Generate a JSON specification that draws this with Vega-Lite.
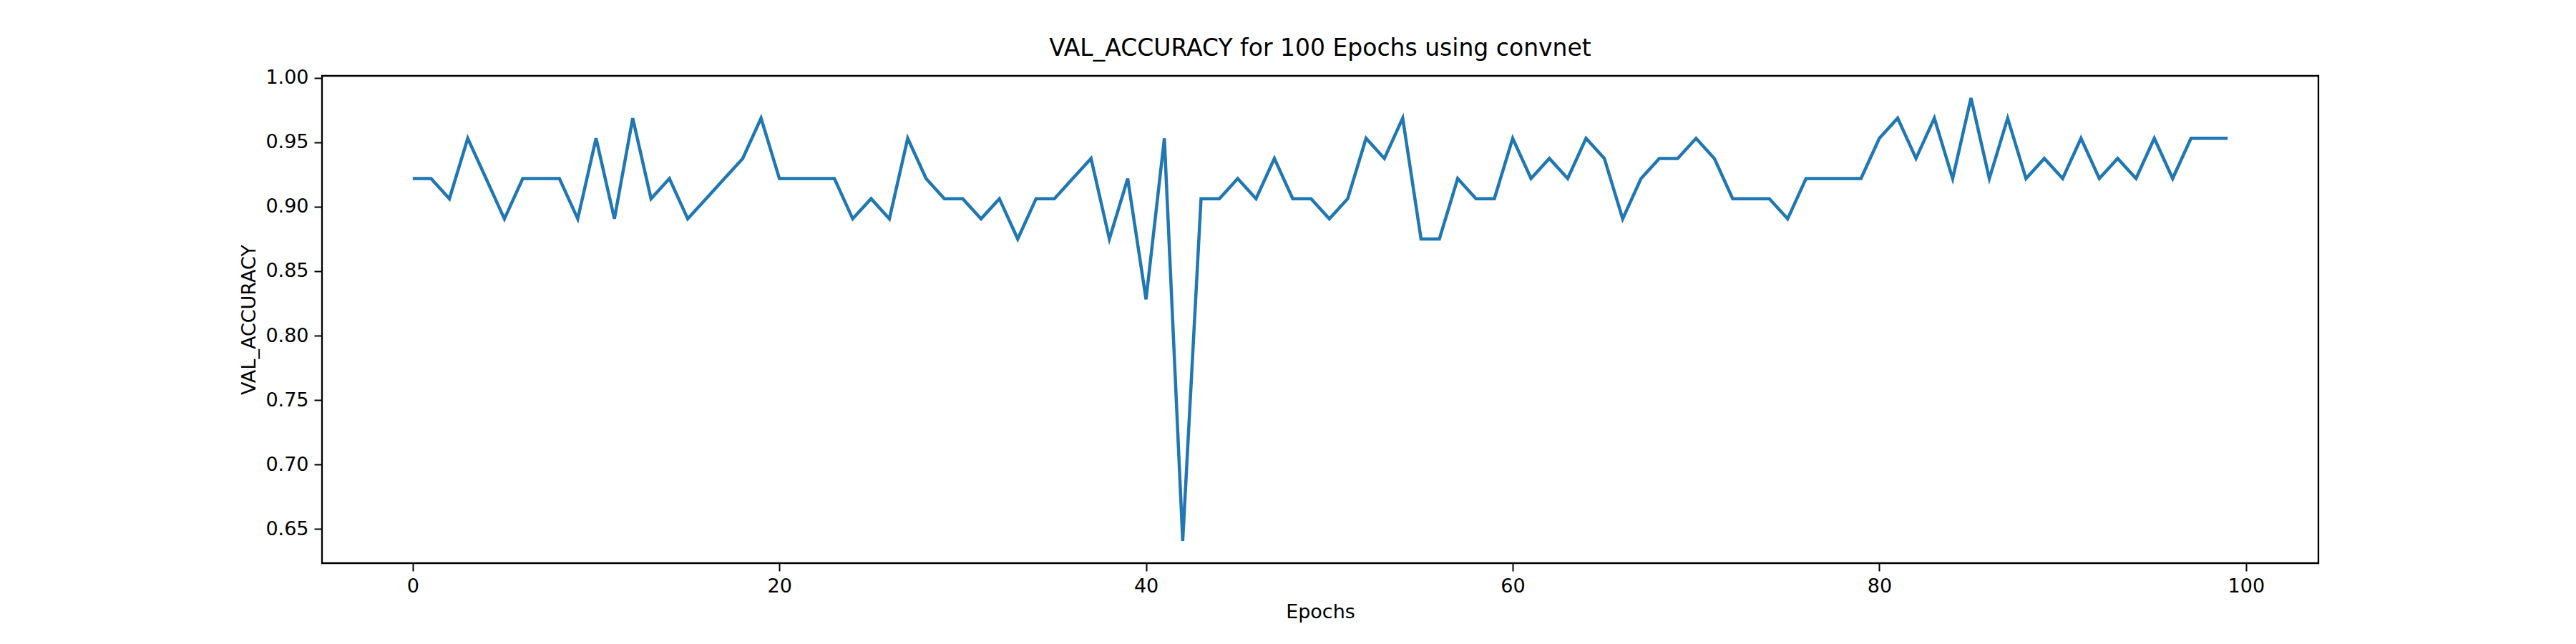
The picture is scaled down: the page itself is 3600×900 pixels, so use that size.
{"$schema":"https://vega.github.io/schema/vega-lite/v6.json","width":2790,"height":681,"autosize":"none","padding":{"left":450,"top":106,"right":360,"bottom":113},"background":"white",
"title":{"text":"VAL_ACCURACY for 100 Epochs using convnet","font":"DejaVu Sans","fontSize":33,"fontWeight":"normal","color":"black","offset":10},
"config":{"view":{"stroke":"black","strokeWidth":2.3},"axis":{"grid":false,"domain":false,"labelFont":"DejaVu Sans","titleFont":"DejaVu Sans","labelFontSize":27,"titleFontSize":27,"titleFontWeight":"normal","labelColor":"black","titleColor":"black","tickColor":"black","tickSize":11,"tickWidth":2,"labelPadding":8}},
"data":{"values":[
{"e":0,"v":0.921875},{"e":1,"v":0.921875},{"e":2,"v":0.90625},{"e":3,"v":0.953125},{"e":4,"v":0.921875},{"e":5,"v":0.890625},{"e":6,"v":0.921875},{"e":7,"v":0.921875},{"e":8,"v":0.921875},{"e":9,"v":0.890625},
{"e":10,"v":0.953125},{"e":11,"v":0.890625},{"e":12,"v":0.96875},{"e":13,"v":0.90625},{"e":14,"v":0.921875},{"e":15,"v":0.890625},{"e":16,"v":0.90625},{"e":17,"v":0.921875},{"e":18,"v":0.9375},{"e":19,"v":0.96875},
{"e":20,"v":0.921875},{"e":21,"v":0.921875},{"e":22,"v":0.921875},{"e":23,"v":0.921875},{"e":24,"v":0.890625},{"e":25,"v":0.90625},{"e":26,"v":0.890625},{"e":27,"v":0.953125},{"e":28,"v":0.921875},{"e":29,"v":0.90625},
{"e":30,"v":0.90625},{"e":31,"v":0.890625},{"e":32,"v":0.90625},{"e":33,"v":0.875},{"e":34,"v":0.90625},{"e":35,"v":0.90625},{"e":36,"v":0.921875},{"e":37,"v":0.9375},{"e":38,"v":0.875},{"e":39,"v":0.921875},
{"e":40,"v":0.828125},{"e":41,"v":0.953125},{"e":42,"v":0.640625},{"e":43,"v":0.90625},{"e":44,"v":0.90625},{"e":45,"v":0.921875},{"e":46,"v":0.90625},{"e":47,"v":0.9375},{"e":48,"v":0.90625},{"e":49,"v":0.90625},
{"e":50,"v":0.890625},{"e":51,"v":0.90625},{"e":52,"v":0.953125},{"e":53,"v":0.9375},{"e":54,"v":0.96875},{"e":55,"v":0.875},{"e":56,"v":0.875},{"e":57,"v":0.921875},{"e":58,"v":0.90625},{"e":59,"v":0.90625},
{"e":60,"v":0.953125},{"e":61,"v":0.921875},{"e":62,"v":0.9375},{"e":63,"v":0.921875},{"e":64,"v":0.953125},{"e":65,"v":0.9375},{"e":66,"v":0.890625},{"e":67,"v":0.921875},{"e":68,"v":0.9375},{"e":69,"v":0.9375},
{"e":70,"v":0.953125},{"e":71,"v":0.9375},{"e":72,"v":0.90625},{"e":73,"v":0.90625},{"e":74,"v":0.90625},{"e":75,"v":0.890625},{"e":76,"v":0.921875},{"e":77,"v":0.921875},{"e":78,"v":0.921875},{"e":79,"v":0.921875},
{"e":80,"v":0.953125},{"e":81,"v":0.96875},{"e":82,"v":0.9375},{"e":83,"v":0.96875},{"e":84,"v":0.921875},{"e":85,"v":0.984375},{"e":86,"v":0.921875},{"e":87,"v":0.96875},{"e":88,"v":0.921875},{"e":89,"v":0.9375},
{"e":90,"v":0.921875},{"e":91,"v":0.953125},{"e":92,"v":0.921875},{"e":93,"v":0.9375},{"e":94,"v":0.921875},{"e":95,"v":0.953125},{"e":96,"v":0.921875},{"e":97,"v":0.953125},{"e":98,"v":0.953125},{"e":99,"v":0.953125}
]},
"mark":{"type":"line","color":"#1f77b4","strokeWidth":4.5,"clip":true},
"encoding":{
"x":{"field":"e","type":"quantitative","title":"Epochs","scale":{"domain":[-4.95,103.95],"nice":false,"zero":false},"axis":{"values":[0,20,40,60,80,100],"format":"d","titlePadding":10}},
"y":{"field":"v","type":"quantitative","title":"VAL_ACCURACY","scale":{"domain":[0.6234,1.0016],"nice":false,"zero":false},"axis":{"values":[0.65,0.7,0.75,0.8,0.85,0.9,0.95,1.0],"format":".2f","titlePadding":8}}
}}
